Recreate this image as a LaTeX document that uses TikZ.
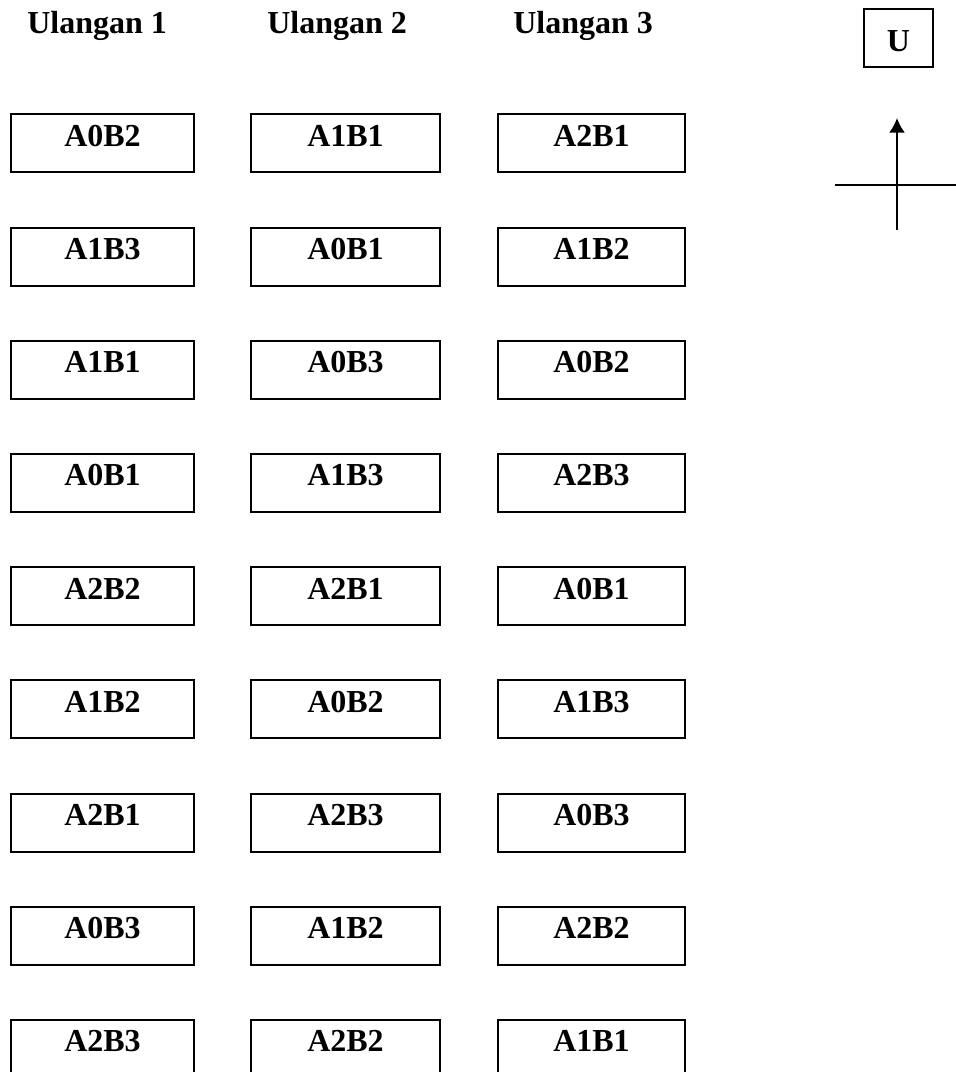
\documentclass[tikz,border=0pt]{standalone}
\usepackage{fontspec}
\setmainfont{Liberation Serif}
\usetikzlibrary{arrows.meta}
\begin{document}
\begin{tikzpicture}[x=0.75pt,y=-0.75pt,
  cell/.style={draw,line width=1.5pt,anchor=north west,inner sep=0pt,
    minimum height=43.5pt,text height=24pt,text depth=19.5pt,
    font=\fontsize{24}{28}\selectfont\bfseries},
  head/.style={anchor=base west,inner sep=0pt,font=\fontsize{24}{28}\selectfont\bfseries},
  axis/.style={line width=1pt}]
\clip (0,0) rectangle (956,1072);
\node[head] (h1) at (27,33) {Ulangan 1};
\node[head] (h2) at (267,33) {Ulangan 2};
\node[head] (h3) at (513,33) {Ulangan 3};
\foreach \a/\b/\c [count=\i from 0] in {A0B2/A1B1/A2B1,A1B3/A0B1/A1B2,A1B1/A0B3/A0B2,A0B1/A1B3/A2B3,A2B2/A2B1/A0B1,A1B2/A0B2/A1B3,A2B1/A2B3/A0B3,A0B3/A1B2/A2B2,A2B3/A2B2/A1B1}{
  \node[cell,minimum width=137.25pt] (c1r\i) at (10,113.3+113.2*\i) {\a};
  \node[cell,minimum width=141.75pt] (c2r\i) at (250,113.3+113.2*\i) {\b};
  \node[cell,minimum width=140.25pt] (c3r\i) at (497,113.3+113.2*\i) {\c};
}
\node[cell,line width=1.2pt,minimum width=52pt,text height=31.5pt,text depth=12pt] (u) at (863,8.3) {U};
\coordinate (vb) at (897,230);
\coordinate (vt) at (897,118);
\coordinate (hl) at (835,185);
\coordinate (hr) at (956,185);
\draw[line width=1.5pt,-{Latex[length=11pt,width=12pt]}] (vb) -- (vt);
\draw[axis] (hl) -- (hr);
\end{tikzpicture}
\end{document}
